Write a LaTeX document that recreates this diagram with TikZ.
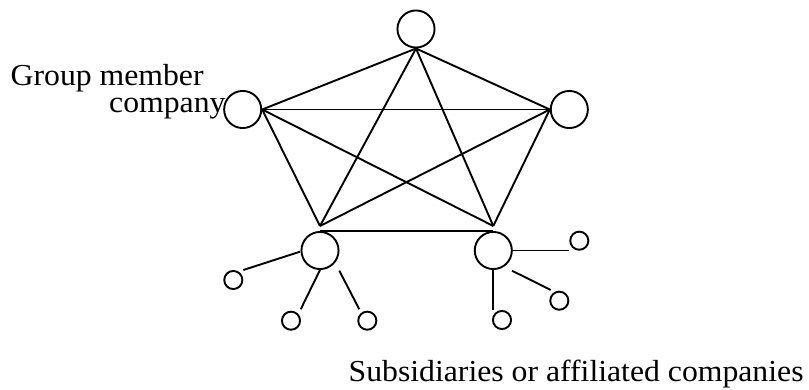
\documentclass[tikz,border=0pt]{standalone}
\usepackage{fontspec}
\setmainfont[FakeStretch=1.04]{Liberation Serif}
\usetikzlibrary{positioning,calc}

\begin{document}
\begin{tikzpicture}[
    x=1pt, y=-1pt,
    company/.style={circle, draw, line width=1.9pt, minimum size=37.1pt, inner sep=0pt},
    subsidiary/.style={circle, draw, line width=1.9pt, minimum size=18.1pt, inner sep=0pt},
    link/.style={line width=1.9pt},
    label/.style={font=\fontsize{30.5}{26.5}\selectfont, inner sep=0pt}
]
\useasboundingbox (0,0) rectangle (809,390);

% Group member companies
\node[company] (top) at (416,29) {};
\node[company] (left) at (242.7,109.5) {};
\node[company] (right) at (569.3,109.5) {};
\node[company] (bl) at (320,250.5) {};
\node[company] (br) at (493.3,250.5) {};

% Corners of the star
\coordinate (tv) at (top.south);
\coordinate (lv) at (left.east);
\coordinate (rv) at (right.west);
\coordinate (blv) at ([yshift=5pt]bl.north);
\coordinate (brv) at ([yshift=5pt]br.north);

% Every member linked to every other
\foreach \a/\b in {tv/lv, tv/rv, tv/blv, tv/brv, lv/rv, lv/blv, lv/brv, rv/blv, rv/brv}
    \draw[link] (\a) -- (\b);
\draw[link] (bl.north) -- (br.north);

% Subsidiaries
\node[subsidiary] (s1) at (233.3,280) {};
\node[subsidiary] (s2) at (291,320.7) {};
\node[subsidiary] (s3) at (367.3,320.7) {};
\node[subsidiary] (s4) at (579.3,240.7) {};
\node[subsidiary] (s5) at (559.3,300.7) {};
\node[subsidiary] (s6) at (502,320) {};

\draw[link] ($(bl)+(-20,1.2)$) -- ($(s1)+(10,-10)$);
\draw[link] (bl.south) -- ($(s2)+(9.7,-11.4)$);
\draw[link] ($(bl)+(19.3,20.2)$) -- ($(s3)+(-8,-11.4)$);
\draw[link] (br.east) -- (br.east -| s4.west);
\draw[link] ($(br)+(18.7,20.2)$) -- ($(s5)+(-8.6,-10.7)$);
\draw[link] (br.south) -- (br.south |- s6.north);

% Labels
\node[label, align=left, anchor=base west] (grouplbl) at (10.5,112.3)
    {Group member\\\hspace*{98.5pt}company};
\node[label, anchor=base west] (sublbl) at (348.5,381.7) {Subsidiaries or affiliated companies};

\end{tikzpicture}
\end{document}
